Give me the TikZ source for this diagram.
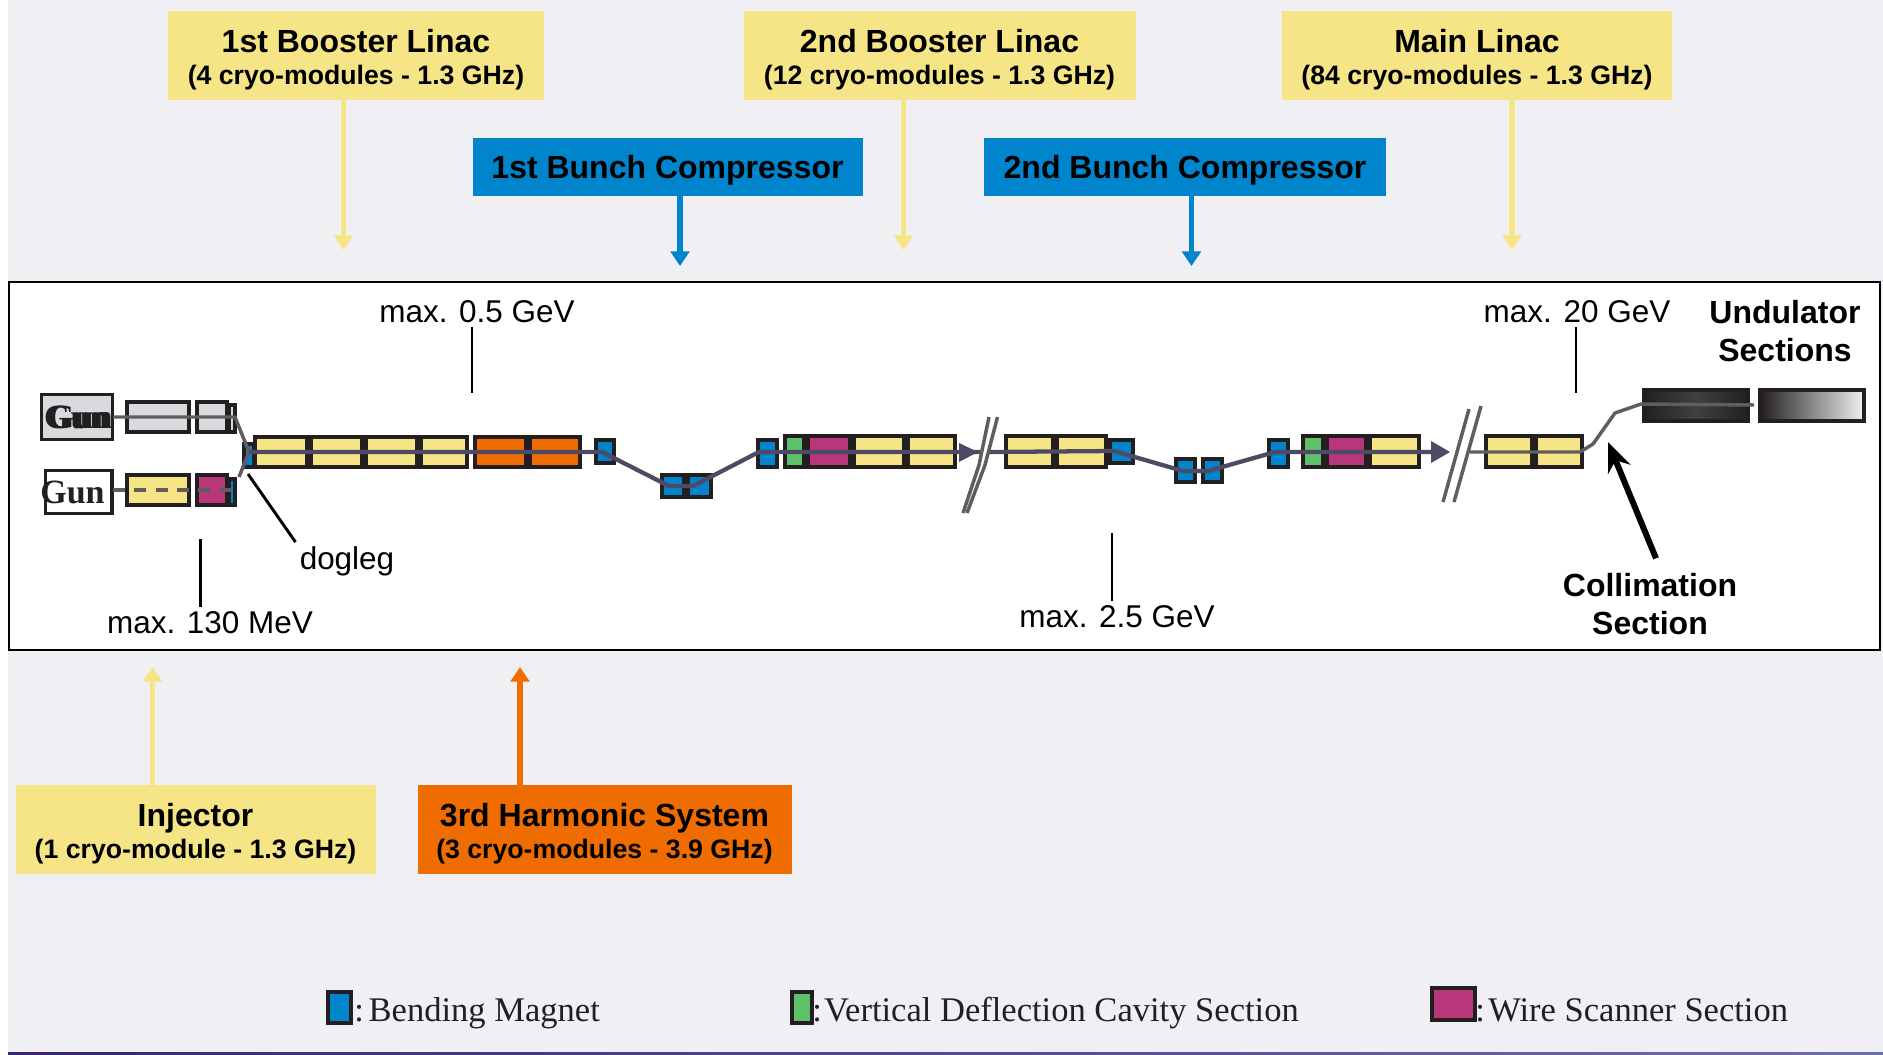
\documentclass[tikz,border=0pt]{standalone}
\usepackage{fontspec}
\setmainfont{Liberation Sans}
\newfontfamily\timesfont{Liberation Serif}
\usepackage{tikz}
\usetikzlibrary{positioning,arrows.meta}
\usepackage{xcolor}
\definecolor{pagebg}{HTML}{EFEFF4}
\definecolor{ylw}{HTML}{F5E586}
\definecolor{ong}{HTML}{EF6C00}
\definecolor{blu}{HTML}{0085CC}
\definecolor{mag}{HTML}{B8377B}
\definecolor{grn}{HTML}{5FC06A}
\definecolor{gry}{HTML}{D9DADE}
\definecolor{ink}{HTML}{231F20}
\definecolor{beam}{HTML}{4E4A63}
\definecolor{pipe}{HTML}{5F5D5E}
\definecolor{edgea}{HTML}{3B2570}
\definecolor{edgeb}{HTML}{6E6EA8}
\newcommand{\headtxt}[2]{{\fontsize{24}{30}\selectfont\bfseries\rule[-8pt]{0pt}{32.4pt}#1}\\[0pt]{\fontsize{20}{24}\selectfont\bfseries\rule[-5pt]{0pt}{19.6pt}#2}}
\tikzset{
  cell/.style={draw=ink,line width=3pt,line join=miter},
  linacbox/.style={fill=ylw,align=center,inner sep=0pt,text=black},
  bcbox/.style={fill=blu,inner sep=0pt,text depth=0pt,font=\fontsize{24}{30}\selectfont\bfseries},
  lab/.style={font=\fontsize{23.6}{28}\selectfont,inner sep=3pt},
  boldlab/.style={font=\fontsize{24}{28.5}\selectfont\bfseries,align=center,inner sep=0pt},
  legendtxt/.style={font=\timesfont\fontsize{25.9}{30}\selectfont,text=ink,inner sep=0pt,anchor=base west},
  guntxt/.style={draw=ink,line width=2.5pt,inner sep=0pt,font=\timesfont\fontsize{25.5}{30}\selectfont\bfseries,text=ink},
  tick/.style={line width=2.2pt,black},
  colarrow/.style={line width=4.2pt,-{Triangle[length=11pt,width=14pt]}},
  beamline/.style={line width=3.2pt,beam,line join=round},
  pipeline/.style={line width=2.6pt,pipe,line join=round},
}
\begin{document}
\begin{tikzpicture}[x=0.75pt,y=-0.75pt]
\useasboundingbox (0,0) rectangle (1883,1055);
\fill[pagebg] (8,0) rectangle (1883,1053);
\shade[left color=edgea,right color=edgeb] (8,1052.5) rectangle (1883,1055);
\draw[line width=1.5pt,black,fill=white] (8.5,282) rectangle (1880,650);

% labelled boxes above and below the machine
\node[linacbox,minimum width=282pt,minimum height=67pt] (booster1) at (356,55.5) {\headtxt{1st Booster Linac}{(4 cryo-modules - 1.3 GHz)}};
\node[linacbox,minimum width=294pt,minimum height=67pt] (booster2) at (939.5,55.5) {\headtxt{2nd Booster Linac}{(12 cryo-modules - 1.3 GHz)}};
\node[linacbox,minimum width=293pt,minimum height=67pt] (mainlinac) at (1477,55.5) {\headtxt{Main Linac}{(84 cryo-modules - 1.3 GHz)}};
\node[bcbox,minimum width=292.5pt,minimum height=43.5pt] (bc1) at (667.5,167) {1st Bunch Compressor};
\node[bcbox,minimum width=302pt,minimum height=43.5pt] (bc2) at (1185,167) {2nd Bunch Compressor};
\node[linacbox,minimum width=270pt,minimum height=67pt] (injector) at (195.5,829.5) {\headtxt{Injector}{(1 cryo-module - 1.3 GHz)}};
\node[linacbox,fill=ong,minimum width=280.5pt,minimum height=67pt] (harmonic) at (604.5,829.5) {\headtxt{3rd Harmonic System}{(3 cryo-modules - 3.9 GHz)}};

\coordinate (tipa) at (343.5,250);
\coordinate (tipb) at (680,266);
\coordinate (tipc) at (903.5,250);
\coordinate (tipd) at (1191.5,266);
\coordinate (tipe) at (1512,250);
\coordinate (tipf) at (152.5,667);
\coordinate (tipg) at (520,667);
\draw[colarrow,ylw] (booster1.south -| tipa) -- (tipa);
\draw[colarrow,blu] (bc1.south -| tipb) -- (tipb);
\draw[colarrow,ylw] (booster2.south -| tipc) -- (tipc);
\draw[colarrow,blu] (bc2.south -| tipd) -- (tipd);
\draw[colarrow,ylw] (mainlinac.south -| tipe) -- (tipe);
\draw[colarrow,ylw] (injector.north -| tipf) -- (tipf);
\draw[colarrow,ong] (harmonic.north -| tipg) -- (tipg);

% guns and injector modules
\node[guntxt,fill=gry,minimum width=53pt,minimum height=34pt] (gunb) at (77,417) {\rlap{\kern2pt Gun}\kern-1pt Gun};
\node[guntxt,fill=white,minimum width=50pt,minimum height=32pt,text width=50pt,align=center] (guna) at (78.5,492) {\kern-9pt Gun};
\foreach \xa/\xb/\ya/\yb/\col in {125/191/400/434/gry,195/229/400/434/gry,227/237/403/434/gry,
  125/191/473/507/ylw,195/229/473/507/mag,227/237/477/507/blu}
  \draw[cell,fill=\col] ({\xa+2},{\ya+2}) rectangle ({\xb-2},{\yb-2});

% machine modules
\foreach \xa/\xb/\ya/\yb/\col in {242/256/442/469/blu,
  253/309/435/469/ylw,309/364/435/469/ylw,364/419/435/469/ylw,419/469/435/469/ylw,
  473/528/435/469/ong,528/582/435/469/ong,594/616/438/465/blu,
  660/686/473/499/blu,686/713/473/499/blu,756/779/438/469/blu,
  783/806/434/469/grn,806/852/434/469/mag,852/906/434/469/ylw,906/957/434/469/ylw,
  1004/1055/434/469/ylw,1055/1108/434/469/ylw,1108/1135/438/465/blu,
  1174/1197/457/484/blu,1201/1224/457/484/blu,1267/1290/438/469/blu,
  1301/1325/434/469/grn,1325/1368/434/469/mag,1368/1421/434/469/ylw,
  1484/1534/434/469/ylw,1534/1584/434/469/ylw}
  \draw[cell,fill=\col] ({\xa+2},{\ya+2}) rectangle ({\xb-2},{\yb-2});

% undulators
\draw[cell,left color=ink,right color=ink,middle color=black!75] (1644,390) rectangle (1748,421);
\draw[cell,left color=ink,right color=black!6] (1760,390) rectangle (1864,421);

% beam lines
\draw[pipeline] (113,417) -- (235,417) -- (249,452);
\draw[pipeline,dashed,dash pattern=on 9pt off 7pt] (113,490) -- (232,490);
\draw[pipeline] (239,477) -- (249,452);
\draw[beamline] (249,452) -- (602,452) -- (669,486) -- (693,486) -- (759,452) -- (980,452);
\fill[beam] (978,452) -- (959,443) -- (959,462) -- cycle;
\draw[beamline] (989,452) -- (1114,451) -- (1183,471) -- (1208,471) -- (1275,452) -- (1433,452);
\fill[beam] (1450,452) -- (1431,441) -- (1431,463) -- cycle;
\draw[pipeline] (1470,452) -- (1580,452) -- (1593,444) -- (1615,413) -- (1641,404) -- (1754,405);

% axis breaks
\draw[pipeline] (989,417) -- (979,465) -- (963,513);
\draw[pipeline] (997.5,417) -- (985,465) -- (967,513);
\draw[pipeline] (1469,409) -- (1443,502);
\draw[pipeline] (1481,406) -- (1454,502);

% energy labels
\node[lab] (e05) at (477,312) {max. 0.5 GeV};
\node[lab] (e130) at (210,622.5) {max. 130 MeV};
\node[lab] (e25) at (1117,616.5) {max. 2.5 GeV};
\node[lab] (e20) at (1577,312) {max. 20 GeV};
\node[lab] (dogleg) at (347,561) {dogleg};
\coordinate (ta) at (472,393);
\coordinate (tb) at (200.5,539);
\coordinate (tc) at (1112,533);
\coordinate (td) at (1576,393);
\coordinate (te) at (248,474);
\draw[tick] (e05.south -| ta) -- (ta);
\draw[tick] (e130.north -| tb) -- (tb);
\draw[tick] (e25.north -| tc) -- (tc);
\draw[tick] (e20.south -| td) -- (td);
\draw[tick] (dogleg.north west) -- (te);

\node[boldlab] (undulator) at (1785,331.5) {Undulator\\Sections};
\node[boldlab] (collim) at (1650,604) {Collimation\\Section};
\coordinate (colltip) at (1608,442);
\draw[line width=4.5pt,black,-{Stealth[length=22pt,width=18pt]}] ([xshift=4.5pt,yshift=11pt]collim.north) -- (colltip);

% legend
\node[legendtxt] (lega) at (354,1021) {:\hspace{-5pt} Bending Magnet};
\node[legendtxt] (legb) at (812,1021) {:\hspace{-7pt} Vertical Deflection Cavity Section};
\node[legendtxt] (legc) at (1475,1021) {:\hspace{-6pt} Wire Scanner Section};
\draw[cell,fill=blu] (328,992) rectangle (351,1023);
\draw[cell,fill=grn] (792,992) rectangle (812,1023);
\draw[cell,fill=mag] (1432,988) rectangle (1475,1020);
\end{tikzpicture}
\end{document}
